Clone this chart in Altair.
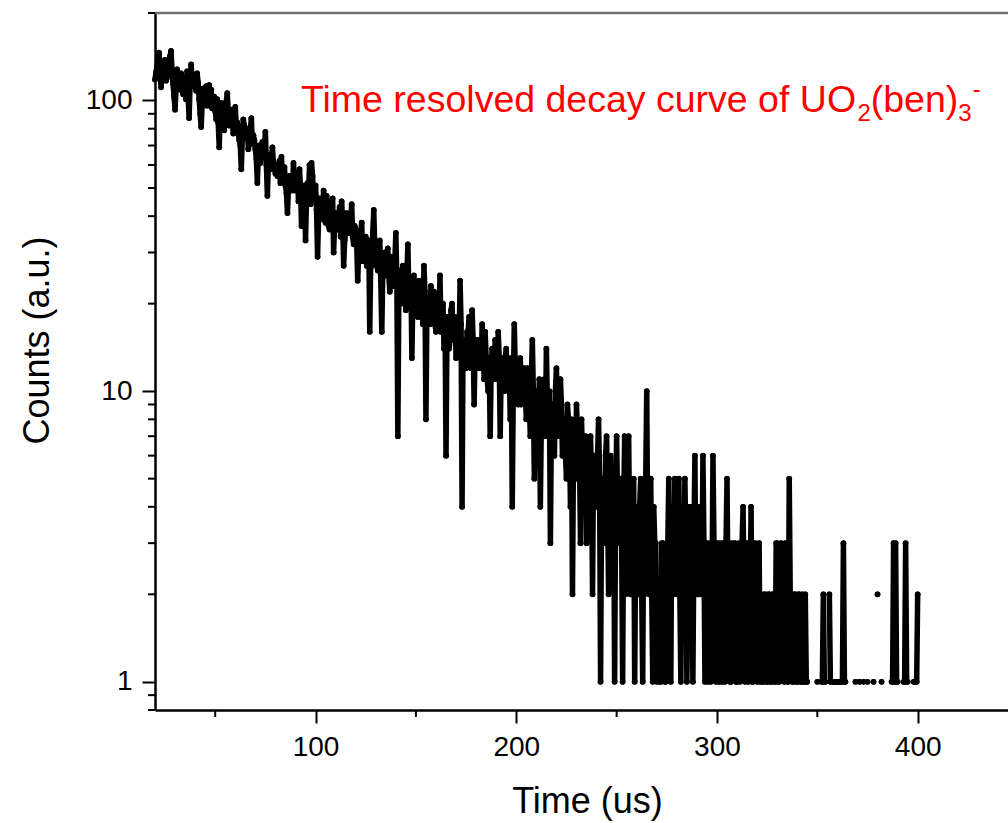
import altair as alt
import pandas as pd

# ---- data: counts every 0.5 us, t = 20.0 .. 400.0 ----
t_first = 20.0
t_step = 0.5
counts = [
    118, 125, 131, 140, 146, 129, 111, 122, 127, 135, 138, 117, 120, 129, 134, 142, 148, 126, 114, 103,
    93, 110, 128, 121, 117, 109, 124, 116, 105, 120, 119, 101, 126, 104, 87, 115, 133, 118, 112, 121,
    118, 108, 124, 115, 101, 90, 81, 97, 110, 99, 104, 112, 96, 105, 113, 100, 109, 94, 98, 103,
    92, 86, 101, 84, 69, 90, 98, 95, 88, 79, 96, 99, 106, 91, 82, 88, 93, 85, 77, 90,
    95, 81, 84, 77, 73, 70, 58, 75, 86, 82, 79, 74, 80, 68, 72, 79, 87, 71, 76, 73,
    68, 63, 52, 66, 70, 61, 66, 72, 71, 67, 78, 60, 47, 62, 65, 58, 63, 69, 61, 59,
    56, 60, 55, 57, 62, 52, 64, 55, 58, 59, 51, 48, 41, 50, 55, 54, 53, 49, 61, 52,
    49, 53, 56, 45, 58, 50, 37, 47, 44, 51, 33, 46, 52, 48, 60, 44, 61, 55, 47, 50,
    51, 42, 29, 40, 46, 45, 41, 39, 49, 43, 38, 47, 44, 37, 36, 41, 42, 46, 30, 38,
    41, 36, 37, 40, 43, 34, 45, 38, 27, 33, 35, 41, 40, 35, 38, 39, 44, 34, 32, 37,
    36, 32, 24, 30, 33, 35, 38, 28, 29, 31, 34, 27, 31, 33, 16, 29, 27, 35, 42, 31,
    30, 27, 26, 29, 33, 24, 16, 26, 28, 30, 25, 28, 31, 25, 22, 29, 27, 24, 23, 28,
    35, 24, 7, 22, 26, 20, 22, 27, 24, 23, 19, 25, 32, 21, 21, 24, 13, 22, 25, 19,
    23, 21, 18, 24, 22, 19, 20, 17, 27, 22, 8, 20, 21, 18, 17, 23, 19, 20, 22, 17,
    16, 19, 19, 17, 25, 16, 17, 20, 14, 18, 6, 17, 18, 14, 15, 19, 20, 15, 16, 18,
    13, 16, 17, 14, 24, 17, 4, 15, 15, 13, 12, 16, 16, 18, 14, 12, 19, 15, 9, 14,
    15, 13, 12, 15, 14, 12, 17, 14, 11, 16, 13, 11, 10, 13, 7, 12, 14, 11, 12, 15,
    12, 11, 16, 13, 7, 12, 13, 10, 10, 13, 14, 11, 11, 12, 8, 13, 4, 10, 17, 12,
    11, 10, 9, 12, 13, 9, 10, 11, 12, 10, 8, 12, 11, 9, 7, 11, 15, 10, 5, 9,
    10, 9, 8, 11, 4, 8, 9, 10, 11, 7, 14, 9, 7, 10, 3, 8, 9, 7, 6, 10,
    12, 8, 8, 7, 11, 9, 6, 8, 7, 6, 5, 9, 8, 7, 4, 8, 2, 6, 7, 5,
    9, 7, 5, 6, 3, 8, 6, 5, 4, 7, 3, 6, 5, 4, 7, 5, 2, 6, 6, 5,
    4, 6, 8, 5, 1, 4, 5, 3, 3, 6, 7, 4, 2, 5, 6, 3, 4, 5, 1, 4,
    7, 4, 3, 5, 5, 3, 1, 4, 7, 2, 4, 5, 7, 3, 2, 4, 3, 5, 1, 3,
    4, 3, 2, 4, 5, 2, 1, 4, 3, 5, 10, 3, 2, 4, 5, 2, 1, 4, 3, 3,
    1, 2, 2, 1, 1, 3, 3, 2, 1, 1, 2, 3, 5, 2, 1, 4, 3, 2, 5, 3,
    2, 3, 5, 2, 1, 4, 3, 2, 5, 3, 1, 2, 4, 3, 2, 4, 1, 3, 6, 2,
    3, 2, 2, 4, 3, 2, 6, 3, 1, 2, 3, 1, 2, 3, 1, 2, 6, 3, 2, 1,
    3, 2, 1, 3, 2, 1, 3, 2, 1, 3, 5, 2, 2, 1, 1, 3, 2, 2, 3, 1,
    1, 2, 3, 1, 2, 3, 4, 2, 1, 2, 3, 1, 2, 2, 4, 1, 1, 2, 3, 2,
    1, 2, 3, 1, 2, 1, 1, 2, 2, 1, 1, 2, 2, 1, 1, 2, 2, 1, 1, 3,
    3, 1, 1, 2, 3, 2, 2, 1, 3, 2, 1, 1, 5, 2, 2, 1, 1, 2, 2, 1,
    1, 2, 2, 1, 1, 2, 1, 1, 2, 1, 1, 0, 0, 0, 0, 0, 0, 0, 0, 0,
    1, 0, 0, 0, 1, 1, 2, 1, 1, 0, 0, 0, 2, 1, 1, 1, 1, 1, 1, 1,
    1, 1, 1, 1, 1, 1, 3, 1, 1, 0, 0, 0, 0, 0, 0, 0, 0, 0, 1, 0,
    0, 0, 1, 0, 0, 0, 1, 0, 0, 0, 1, 0, 0, 0, 0, 0, 1, 0, 0, 0,
    2, 0, 0, 0, 1, 0, 0, 0, 0, 0, 0, 0, 0, 0, 1, 1, 3, 1, 3, 1,
    1, 0, 0, 0, 0, 0, 1, 1, 3, 1, 1, 0, 0, 0, 0, 0, 1, 1, 1, 1,
    2,
]
times = [t_first + t_step * i for i in range(len(counts))]

x_major = [100, 200, 300, 400]
x_minor = [50, 150, 250, 350]
y_major = [1, 10, 100]
y_minor = [0.8, 0.9, 2, 3, 4, 5, 6, 7, 8, 9, 20, 30, 40, 50, 60, 70, 80, 90, 200]

x_domain = [20, 445]
y_domain = [0.8, 200]

# ---- frames ----
df = pd.DataFrame({"t": times, "c": counts})
df["seg"] = (df["c"] == 0).cumsum()   # zero counts break the line on a log axis
pos = df[df["c"] > 0]

W, H = 853, 697
FONT = "Liberation Sans"

xs = alt.Scale(domain=x_domain, nice=False, zero=False)
ys = alt.Scale(type="log", domain=y_domain, nice=False)

x_axis = alt.Axis(
    values=x_major, format="d", grid=False, labelFlush=False,
    labelFont=FONT, labelFontSize=28, labelColor="black", labelPadding=10,
    tickSize=13, tickWidth=2, tickColor="black",
    domainColor="black", domainWidth=2.5,
    title="Time (us)", titleFont=FONT, titleFontSize=36, titleFontWeight="normal",
    titleColor="black", titleX=432, titleY=102, titleAlign="center",
    titleBaseline="alphabetic",
)
y_axis = alt.Axis(
    values=y_major, format="d", grid=False, labelFlush=False,
    labelFont=FONT, labelFontSize=28, labelColor="black", labelPadding=10,
    tickSize=13, tickWidth=2, tickColor="black",
    domainColor="black", domainWidth=2.5,
    title="Counts (a.u.)", titleFont=FONT, titleFontSize=36, titleFontWeight="normal",
    titleColor="black", titleAngle=270, titleX=-107, titleY=327, titleAlign="center",
    titleBaseline="alphabetic",
)

X = alt.X("t:Q", scale=xs, axis=x_axis)
Y = alt.Y("c:Q", scale=ys, axis=y_axis)

line = alt.Chart(pos).mark_line(
    color="black", strokeWidth=5.5, strokeCap="round", strokeJoin="round"
).encode(x=X, y=Y, detail="seg:N")

dots = alt.Chart(pos).mark_circle(color="black", size=34, opacity=1).encode(x=X, y=Y)

xminor = alt.Chart(pd.DataFrame({"t": x_minor})).mark_rule(
    color="black", strokeWidth=2
).encode(x=X, y=alt.value(H), y2=alt.value(H + 7))

yminor = alt.Chart(pd.DataFrame({"c": y_minor})).mark_rule(
    color="black", strokeWidth=2
).encode(y=Y, x=alt.value(-7), x2=alt.value(0))

one = pd.DataFrame({"k": [0]})
top_line = alt.Chart(one).mark_rule(color="#707070", strokeWidth=2.5).encode(
    x=alt.value(0), x2=alt.value(W), y=alt.value(0)
)

# annotation: Time resolved decay curve of UO2(ben)3-
F, S = 37.5, 24
red = "#ff0000"
x0, yb = 146, 99
w_main = 14.838 * F
w_sub = 0.556 * S
w_ben = 2.334 * F


def txt(s, x, y, size):
    return alt.Chart(one).mark_text(
        text=s, align="left", baseline="alphabetic", font=FONT,
        fontSize=size, color=red
    ).encode(x=alt.value(x), y=alt.value(y))


ann = [
    txt("Time resolved decay curve of UO", x0, yb, F),
    txt("2", x0 + w_main, yb + 9, S),
    txt("(ben)", x0 + w_main + w_sub, yb, F),
    txt("3", x0 + w_main + w_sub + w_ben, yb + 9, S),
    txt("-", x0 + w_main + 2 * w_sub + w_ben + 1, yb - 15, S),
]

chart = alt.layer(line, dots, xminor, yminor, top_line, *ann).properties(
    width=W, height=H,
    autosize=alt.AutoSizeParams(type="none"),
    padding={"left": 155, "top": 13, "right": 0, "bottom": 113},
).configure_view(stroke=None).configure(background="white")

chart.save("out.html", embed_options={"renderer": "svg", "actions": False})
